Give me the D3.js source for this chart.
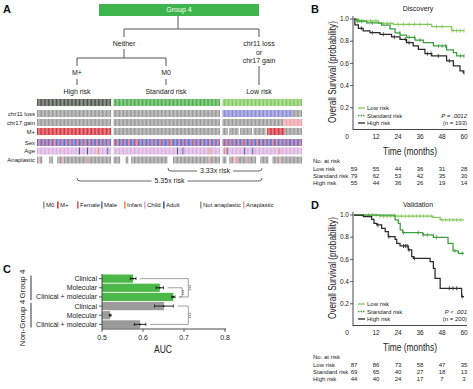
<!DOCTYPE html>
<meta charset="utf-8">
<style>
  body { margin: 0; background: #fff; }
  svg { display: block; font-family: "Liberation Sans", Arial, sans-serif; }
</style>
<body>
<svg id="fig" width="473" height="389"></svg>
<script src="https://d3js.org/d3.v7.min.js"></script>
<script>

// ---------- panel A : one character per patient, spaces only for reading ----------
var groupNames = ["High risk", "Standard risk", "Low risk"];
var groupSizes = [55, 79, 59];

var chr11 = [
  "0000000000 0000000000 0000000000 0000000000 0000000000 00000",
  "0000000000 0000000000 0000000000 0000000000 0000000000 0000000000 0000000000 000000000",
  "1111111111 1111111111 1111111111 1111111111 1111111111 110000000"];
var chr17 = [
  "0000000000 0000000000 0000000000 0000000000 0000000000 00000",
  "0000000000 0000000000 0000000000 0000000000 0000000000 0000000000 0000000000 000000000",
  "0000000000 0000000000 0000000000 0000000000 0000011111 111111111"];
var mstage = [
  "1111111111 1111111111 1111111111 1111111111 1111111111 11111",
  "0000000000 0000000000 0000000000 0000000000 0000000000 0000000000 0000000000 000000000",
  "0000-00000 00-0000000 00-0000000 00-1111111 1111110000 000000000"];
var sex = [
  "MMFMMFMMMF MMFFMMMFMM MMFMMFMMMF MMMMFFMMMF MMMMFMMMFM MMFMM",
  "FMMFMMMFMM MFMMMMFFMM MMFMMMMFMM FMMMMFMMMM MFFMMMMMFM MMMFMMMMFM MMFMMMFMMM MFMMMFMMF",
  "MFMMFMMFMM MMFMMFFMMM MFMMMFMMFM MMFMMMMFMM FMMMFMMFMM MFMMFMMMF"];
var age = [
  "CCCCCCCCCC CCCCCCCCCC CCCCCCCCCC CACCCCCACC CCCCCICCCC CCACC",
  "CCCCCCCCCC CCCCCCCCCC CCCCCCCCCC CCCCCCCCCC CCCCCCCACC CACCCCCCCC CCCCCCCCCC CICCCCCCC",
  "CICACCCCCC CCCCCCACCC CCACCCCCCC CCCCCCCCCC CCICCCCCCC CCCCCCCCC"];
var anaplastic = [
  "NYNN-----N NN---NNNNY NNNNNNNNNN NNNNNNNYNN NNNNNNNNNN NNNNN",
  "NNNNN----N N--NNNNNNN NNNNNNNNNN NNNNNNNNNN ----NNNNNN NNNNNNNNNN NNNNNNNNNN YNNNNNNNN",
  "NNN--NNNYY YNNNNNNNYN NNNNN---NN NNNN---NNN NNYNNNNNNN NNNNNNNNN"];

var legendItems = ["M0", "M+", "Female", "Male", "Infant", "Child", "Adult", "Not anaplastic", "Anaplastic"];
var riskRatios = ["3.33x risk", "5.35x risk"];

// ---------- panel C ----------
var aucLabels = ["Clinical", "Molecular", "Clinical + molecular", "Clinical", "Molecular", "Clinical + molecular"];
var aucGroups = ["Group 4", "Group 4", "Group 4", "Non-Group 4", "Non-Group 4", "Non-Group 4"];
var aucValues = [0.576, 0.641, 0.674, 0.651, 0.520, 0.593];
var aucErrors = [0.007, 0.009, 0.004, 0.023, 0.002, 0.014];
var aucTicks = [0.5, 0.6, 0.7, 0.8];

// ---------- panels B and D : [month, survival] steps ----------
var kmTicks = [0, 12, 24, 36, 48, 60];
var survTicks = [1.0, 0.8, 0.6, 0.4, 0.2];
var riskLabels = ["Low risk", "Standard risk", "High risk"];

var discLow = [[0,1],[2.4,0.982],[13.3,0.961],[21.4,0.952],[42.4,0.931],[53.3,0.895],[60,0.895]];
var discStd = [[0,1],[1.5,0.98],[6.9,0.965],[15,0.945],[19.6,0.91],[22.4,0.875],[25.1,0.855],[28.7,0.835],
  [33.3,0.81],[37.8,0.787],[43.3,0.757],[50.5,0.721],[54.2,0.697],[56,0.667],[60,0.667]];
var discHigh = [[0,1],[0.5,0.946],[2.4,0.916],[5,0.892],[8.7,0.877],[14.2,0.862],[20.5,0.838],[25.1,0.817],
  [28.7,0.787],[32.3,0.757],[35.1,0.727],[38.7,0.688],[42.4,0.667],[50.5,0.622],[54.2,0.577],[57.8,0.532],[59.6,0.517],[60,0.517]];
var discCensLow = [3,5,9,12,16,18,20,24,27,30,33,36,40,45,48,54,56,58,60];
var discCensStd = [2,4,10,25,30,33,36,46,48,50,58,60];
var discCensHigh = [4,10,16,22,28,30,40,42,46,52,60];
var discAtRisk = [[59,55,44,36,31,28],[79,62,53,42,35,30],[55,44,36,26,19,14]];

var valLow = [[0,1],[14,0.99],[43,0.979],[47,0.955],[60,0.955]];
var valStd = [[0,1],[22.4,0.955],[24.2,0.925],[25.2,0.865],[26.5,0.841],[37.5,0.82],[43.3,0.799],[51.3,0.745],
  [54,0.676],[56.9,0.655],[60,0.655]];
var valHigh = [[0,1],[5.1,0.985],[9.6,0.961],[10.9,0.925],[12.4,0.91],[15.1,0.88],[17,0.85],[18.7,0.805],
  [22.4,0.781],[23.3,0.745],[25.1,0.721],[29.6,0.685],[31.5,0.625],[32.4,0.61],[41.5,0.58],[43.3,0.52],
  [44.2,0.43],[47,0.34],[58.7,0.265],[60,0.265]];
var valCensLow = [8,10,12,14,16,18,20,22,24,26,28,30,32,34,36,38,40,42,48,50,52,54,56,58];
var valCensStd = [27,35,38,40,45,55,59];
var valCensHigh = [13,19,27,28,29,30,33,52,54,56,59];
var valAtRisk = [[87,86,73,58,47,35],[69,65,40,27,18,13],[44,40,24,17,7,3]];

// ---------- drawing ----------
var svg = d3.select("#fig");
var gray = "#9b9b9b";
var lineCol = "#555";
var riskCols = ["#86c75a", "#3d9e3f", "#2b2b2b"];

function label(g, x, y, s, size, anchor, extra) {
  var t = g.append("text").attr("x", x).attr("y", y).attr("dy", "0.35em")
    .attr("font-size", size).attr("text-anchor", anchor || "middle").attr("fill", "#222").text(s);
  if (extra) extra(t);
  return t;
}
// condensed title: squeeze the text horizontally to a given width
function squeezed(g, x, y, s, size, width, rot) {
  var t = g.append("text").attr("text-anchor", "middle").attr("dy", "0.35em")
    .attr("font-size", size).attr("fill", "#222").text(s);
  var k = width / t.node().getComputedTextLength();
  t.attr("transform", "translate(" + x + "," + y + ")" + (rot ? " rotate(-90)" : "") + " scale(" + k + ",1)");
  return t;
}
function seg(g, x1, y1, x2, y2, col, w) {
  g.append("line").attr("x1", x1).attr("y1", y1).attr("x2", x2).attr("y2", y2)
    .attr("stroke", col || lineCol).attr("stroke-width", w || 1);
}
function bold(g, x, y, s) {
  g.append("text").attr("x", x).attr("y", y).attr("font-size", 11).attr("font-weight", "bold").attr("fill", "#111").text(s);
}

// ===== Panel A =====
var A = svg.append("g");
bold(A, 3, 13, "A");
A.append("rect").attr("x", 99).attr("y", 4).attr("width", 160).attr("height", 12).attr("fill", "#3db54a");
label(A, 179, 10, "Group 4", 7, "middle", function (t) { t.attr("fill", "#fff"); });

[[178,16,178,29],[124,29,259,29],[124,29,124,37],[259,29,259,37],[124,49,124,58],[77,58,166,58],
 [77,58,77,66],[166,58,166,66],[77,79,77,85],[166,79,166,85],[259,66,259,85]]
  .forEach(function (s) { seg(A, s[0], s[1], s[2], s[3]); });
label(A, 124, 44, "Neither", 7);
label(A, 259, 44, "chr11 loss", 7);
label(A, 259, 52.5, "or", 7);
label(A, 259, 61, "chr17 gain", 7);
label(A, 77, 73, "M+", 7);
label(A, 166, 73, "M0", 7);
var leafX = [77, 166, 259];
groupNames.forEach(function (n, i) { label(A, leafX[i], 92, n, 7); });

// x positions of every patient, grouped
var heatLeft = 37, heatRight = 302, groupGap = 2.5;
var cellW = (heatRight - heatLeft - 2 * groupGap) / d3.sum(groupSizes);
var groupScales = [];
var start = heatLeft;
groupSizes.forEach(function (n) {
  groupScales.push(d3.scaleBand().domain(d3.range(n)).range([start, start + n * cellW]).paddingInner(0.14));
  start += n * cellW + groupGap;
});

var headerCols = ["#4d554d", "#4cb04d", "#86cb62"];
var rows = [
  { label: "", data: null, y: 99 },
  { label: "chr11 loss", data: chr11, y: 110, col: { "0": gray, "1": "#8b8bd6" } },
  { label: "chr17 gain", data: chr17, y: 119, col: { "0": gray, "1": "#f2a2aa" } },
  { label: "M+", data: mstage, y: 128, col: { "0": gray, "1": "#d8363f" } },
  { label: "Sex", data: sex, y: 139, col: { F: "#dc5b69", M: "#6a6cc6" } },
  { label: "Age", data: age, y: 147.5, col: { C: "#dcb2e2", I: "#f08a5a", A: "#4a58a6" } },
  { label: "Anaplastic", data: anaplastic, y: 156.5, col: { N: gray, Y: "#f2a2aa" } }
];
var cellH = 7;
rows.forEach(function (r) {
  if (r.label) label(A, 35, r.y + cellH / 2, r.label, 6, "end");
  groupSizes.forEach(function (n, gi) {
    var sc = groupScales[gi];
    var codes = r.data ? r.data[gi].replace(/ /g, "").split("") : d3.range(n).map(function () { return "h"; });
    A.append("g").selectAll("rect").data(codes.map(function (c, i) { return { c: c, i: i }; })
      .filter(function (d) { return d.c !== "-"; }))
      .join("rect")
      .attr("x", function (d) { return sc(d.i); })
      .attr("y", r.y)
      .attr("width", sc.bandwidth())
      .attr("height", cellH)
      .attr("fill", function (d) { return r.data ? r.col[d.c] : headerCols[gi]; });
  });
});

// risk ratio brackets
function riskBracket(x1, x2, y, s) {
  var t = label(A, (x1 + x2) / 2, y, s, 7);
  var w = t.node().getComputedTextLength();
  var tl = (x1 + x2) / 2 - w / 2 - 3, tr = (x1 + x2) / 2 + w / 2 + 3;
  A.append("path").attr("fill", "none").attr("stroke", lineCol).attr("stroke-width", 0.9)
    .attr("d", "M" + x1 + "," + (y - 3) + "Q" + x1 + "," + y + " " + (x1 + 3) + "," + y + "L" + tl + "," + y +
      "M" + tr + "," + y + "L" + (x2 - 3) + "," + y + "Q" + x2 + "," + y + " " + x2 + "," + (y - 3));
}
riskBracket(168, 262, 171, riskRatios[0]);
riskBracket(77, 262, 181, riskRatios[1]);

// legend
var legendX = [43, 57, 77, 101, 124, 144, 163, 200, 243];
var legendCols = [gray, "#d8363f", "#dc5b69", "#6a6cc6", "#f08a5a", "#dcb2e2", "#4a58a6", gray, "#f2a2aa"];
legendItems.forEach(function (s, i) {
  A.append("rect").attr("x", legendX[i]).attr("y", 201.5).attr("width", 1.6).attr("height", 7).attr("fill", legendCols[i]);
  label(A, legendX[i] + 3, 205.2, s, 6, "start");
});

// ===== Panel C =====
var C = svg.append("g");
bold(C, 3, 273, "C");
var ax = d3.scaleLinear().domain([0.5, 0.8]).range([102, 225]);
var ay = d3.scaleBand().domain(d3.range(6)).range([274.5, 328.5]).paddingInner(0.1);
var aucCols = ["#4cb848", "#4cb848", "#4cb848", "#9b9b9b", "#9b9b9b", "#9b9b9b"];
C.selectAll("rect.bar").data(aucValues).join("rect").attr("class", "bar")
  .attr("x", ax(0.5)).attr("y", function (d, i) { return ay(i); })
  .attr("width", function (d) { return ax(d) - ax(0.5); }).attr("height", ay.bandwidth())
  .attr("fill", function (d, i) { return aucCols[i]; });
aucValues.forEach(function (v, i) {
  var yc = ay(i) + ay.bandwidth() / 2, e = aucErrors[i];
  seg(C, ax(v - e), yc, ax(v + e), yc, "#111", 0.9);
  seg(C, ax(v - e), yc - 1.5, ax(v - e), yc + 1.5, "#111", 0.8);
  seg(C, ax(v + e), yc - 1.5, ax(v + e), yc + 1.5, "#111", 0.8);
  C.append("circle").attr("cx", ax(v)).attr("cy", yc).attr("r", 0.9).attr("fill", "#111");
  seg(C, 99, yc, 102, yc, "#333", 0.8);
  label(C, 97, yc, aucLabels[i], 7, "end");
});
seg(C, 102, 274, 102, 329.5, "#333", 0.9);
seg(C, 102, 329, 226, 329, "#333", 0.9);
aucTicks.forEach(function (t) {
  seg(C, ax(t), 329, ax(t), 332, "#333", 0.8);
  label(C, ax(t), 337.5, d3.format(".1f")(t), 7);
});
squeezed(C, 163, 349, "AUC", 10, 18, false);

// group labels
[[0, 2], [3, 5]].forEach(function (p, k) {
  var y1 = ay(p[0]) + 1, y2 = ay(p[1]) + ay.bandwidth() - 1;
  seg(C, 31, y1, 31, y2, "#333", 1);
  var cy = k === 0 ? 284 : 323;
  C.append("text").attr("transform", "translate(22," + cy + ") rotate(-90)").attr("dy", "0.35em")
    .attr("text-anchor", "middle").attr("font-size", 8).attr("fill", "#222").text(aucGroups[p[0]]);
});

// significance brackets
function sig(i1, i2, xb) {
  var y1 = ay(i1) + ay.bandwidth() / 2, y2 = ay(i2) + ay.bandwidth() / 2;
  var s1 = ax(aucValues[i1] + aucErrors[i1]) + 4, s2 = ax(aucValues[i2] + aucErrors[i2]) + 4;
  C.append("path").attr("fill", "none").attr("stroke", "#8a8a8a").attr("stroke-width", 0.8)
    .attr("d", "M" + s1 + "," + y1 + "H" + ax(xb) + "V" + y2 + "H" + s2);
  C.append("text").attr("transform", "translate(" + (ax(xb) + 2.5) + "," + ((y1 + y2) / 2) + ") rotate(-90)")
    .attr("text-anchor", "middle").attr("dy", "0.35em").attr("font-size", 5).attr("fill", "#555").text("***");
}
sig(0, 2, 0.7105);
sig(1, 2, 0.6955);
sig(3, 5, 0.7105);

// ===== Panels B and D =====
var kx = d3.scaleLinear().domain([0, 60]).range([354, 464]);

function survAt(curve, t) {
  var s = curve[0][1];
  curve.forEach(function (p) { if (p[0] <= t) s = p[1]; });
  return s;
}

function drawKM(top, letter, title, curves, cens, atRisk, pText, nText) {
  var g = svg.append("g");
  var ky = d3.scaleLinear().domain([0, 1]).range([top + 111, top]);
  bold(g, 311, top - 6, letter);
  label(g, 418, top - 10, title, 7);

  seg(g, 353, top - 3, 353, top + 111, "#333", 0.9);
  seg(g, 353, top + 110.5, 467, top + 110.5, "#333", 0.9);
  survTicks.forEach(function (t) {
    seg(g, 350, ky(t), 353, ky(t), "#333", 0.8);
    label(g, 349, ky(t), d3.format(".1f")(t), 6.5, "end");
  });
  kmTicks.forEach(function (t) {
    label(g, t === 0 ? kx(t) - 7 : kx(t), top + 118, t, 6.5);
  });
  squeezed(g, 332, top + 53, "Overall Survival (probability)", 10, 102, true);
  squeezed(g, 410, top + 132, "Time (months)", 10.5, 54, false);

  var line = d3.line().x(function (d) { return kx(d[0]); }).y(function (d) { return ky(d[1]); }).curve(d3.curveStepAfter);
  curves.forEach(function (c, i) {
    g.append("path").datum(c).attr("d", line).attr("fill", "none")
      .attr("stroke", riskCols[i]).attr("stroke-width", 1.25);
    g.append("g").selectAll("line").data(cens[i]).join("line")
      .attr("x1", function (d) { return kx(d); }).attr("x2", function (d) { return kx(d); })
      .attr("y1", function (d) { return ky(survAt(c, d)) - 2; })
      .attr("y2", function (d) { return ky(survAt(c, d)) + 2; })
      .attr("stroke", riskCols[i]).attr("stroke-width", 0.8);
  });

  // legend
  riskLabels.forEach(function (s, i) {
    var y = top + 89 + i * 7.5;
    g.append("line").attr("x1", 358).attr("x2", 365).attr("y1", y).attr("y2", y)
      .attr("stroke", riskCols[i]).attr("stroke-width", 1.3)
      .attr("stroke-dasharray", i === 1 ? "1.5,1" : null);
    label(g, 367, y, s, 6, "start");
  });
  label(g, 467, top + 96.5, pText, 6, "end", function (t) { t.attr("font-style", "italic"); });
  label(g, 467, top + 104, nText, 6, "end");

  // number at risk
  label(g, 313, top + 142, "No. at risk", 6, "start");
  riskLabels.forEach(function (s, i) {
    var y = top + 150 + i * 7;
    label(g, 313, y, s, 6, "start");
    atRisk[i].forEach(function (v, j) { label(g, kx(kmTicks[j]), y, v, 6); });
  });
}

drawKM(19, "B", "Discovery", [discLow, discStd, discHigh], [discCensLow, discCensStd, discCensHigh],
  discAtRisk, "P = .0012", "(n = 193)");
drawKM(215, "D", "Validation", [valLow, valStd, valHigh], [valCensLow, valCensStd, valCensHigh],
  valAtRisk, "P < .001", "(n = 200)");
</script>
